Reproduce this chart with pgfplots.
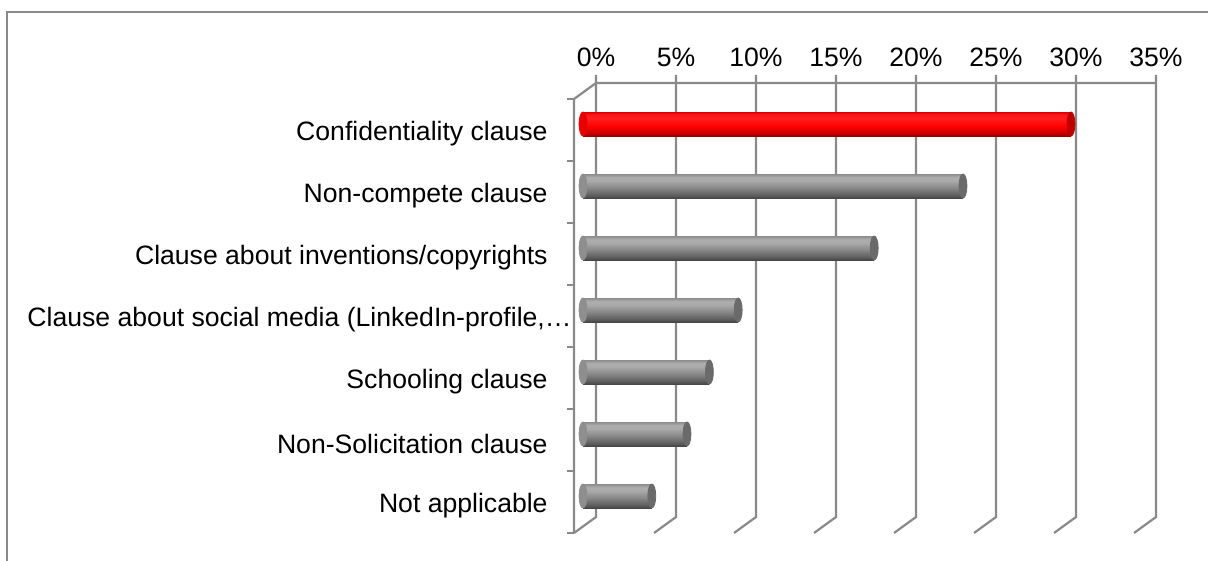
\documentclass[border=0pt]{standalone}
\usepackage{fontspec}
\setmainfont{Liberation Sans}
\usepackage{pgfplots}
\pgfplotsset{compat=1.18}
\pgfdeclarelayer{bgl}
\pgfsetlayers{bgl,main}
\definecolor{gridc}{HTML}{898989}
\definecolor{gcap}{HTML}{6A6A6A}
\definecolor{gleft}{HTML}{8E8E8E}
\definecolor{rcap}{HTML}{C00000}
\definecolor{rleft}{HTML}{E80000}
\pgfdeclareverticalshading{gcyl}{100bp}{
  color(0bp)=(black!72); color(25bp)=(black!72); color(32bp)=(black!62);
  color(45bp)=(black!48); color(60bp)=(black!34); color(68bp)=(black!32);
  color(75bp)=(black!45); color(100bp)=(black!45)}
\pgfdeclareverticalshading{rcyl}{100bp}{
  color(0bp)=(red!60!black); color(25bp)=(red!60!black); color(33bp)=(red!82!black);
  color(45bp)=(red); color(62bp)=(red!88!white); color(70bp)=(red!92!white);
  color(75bp)=(red!85!black); color(100bp)=(red!85!black)}
\begin{document}
\fontsize{13.3}{15.5}\selectfont
\begin{tikzpicture}
\draw[gridc, line width=0.6pt] (3.5pt,-281pt) -- (3.5pt,-6pt) -- (605pt,-6pt);
\begin{axis}[
  scale only axis,
  width=280pt, height=217pt,
  at={(291.5pt,-46.5pt)}, anchor=north west,
  xmin=0, xmax=35, ymin=-0.5, ymax=6.5,
  y dir=reverse,
  clip=false,
  axis line style={draw=none},
  major tick length=0pt,
  xtick={0,5,...,35},
  xticklabel pos=upper,
  xticklabel={\pgfmathprintnumber{\tick}\%},
  xticklabel style={anchor=center, xshift=6.5pt, yshift=18pt},
  ytick={0,...,6},
  yticklabels={Confidentiality clause, Non-compete clause, Clause about inventions/copyrights, {Clause about social media (LinkedIn-profile,…\kern-12pt}, Schooling clause, Non-Solicitation clause, Not applicable},
  yticklabel style={anchor=east, inner sep=0pt, xshift=-17.5pt, yshift=-5pt},
  /pgf/number format/assume math mode=true,
]
\pgfplotsinvokeforeach{0,5,...,35}{
  \coordinate (t#1) at (axis cs:#1,-0.5);
  \coordinate (u#1) at (axis cs:#1,6.5);
}
\pgfplotsinvokeforeach{0,...,7}{
  \coordinate (c#1) at (axis cs:0,#1-0.5);
}
% left rounded ends
\addplot[only marks, mark=*, mark size=6pt, color=rleft, mark options={xscale=0.33}] coordinates {(0,0)};
\addplot[only marks, mark=*, mark size=6pt, color=gleft, mark options={xscale=0.33}] coordinates {(0,1) (0,2) (0,3) (0,4) (0,5) (0,6)};
% bars (one plot each so that each gets its own shading)
\addplot[xbar, bar width=12pt, bar shift=0pt, draw=none, shade, shading=rcyl] coordinates {(30.5,0)};
\addplot[xbar, bar width=12pt, bar shift=0pt, draw=none, shade, shading=gcyl] coordinates {(23.75,1)};
\addplot[xbar, bar width=12pt, bar shift=0pt, draw=none, shade, shading=gcyl] coordinates {(18.2,2)};
\addplot[xbar, bar width=12pt, bar shift=0pt, draw=none, shade, shading=gcyl] coordinates {(9.7,3)};
\addplot[xbar, bar width=12pt, bar shift=0pt, draw=none, shade, shading=gcyl] coordinates {(7.9,4)};
\addplot[xbar, bar width=12pt, bar shift=0pt, draw=none, shade, shading=gcyl] coordinates {(6.5,5)};
\addplot[xbar, bar width=12pt, bar shift=0pt, draw=none, shade, shading=gcyl] coordinates {(4.3,6)};
% right end caps
\addplot[only marks, mark=*, mark size=6pt, color=rcap, mark options={xscale=0.33}] coordinates {(30.5,0)};
\addplot[only marks, mark=*, mark size=6pt, color=gcap, mark options={xscale=0.33}] coordinates {(23.75,1) (18.2,2) (9.7,3) (7.9,4) (6.5,5) (4.3,6)};
\end{axis}
\begin{pgfonlayer}{bgl}
\foreach \v in {0,5,...,35} {
  \draw[gridc, line width=1.1pt] ([shift={(6.5pt,9pt)}]t\v) -- ([shift={(6.5pt,5pt)}]u\v) -- ([shift={(-4.5pt,-3pt)}]u\v);
}
\draw[gridc, line width=1.1pt] ([shift={(6.5pt,5pt)}]t35) -- ([shift={(6.5pt,5pt)}]t0) -- ([shift={(-4.5pt,-3pt)}]t0) -- ([shift={(-4.5pt,-3pt)}]u0);
\foreach \k in {0,...,7} {
  \draw[gridc, line width=1.1pt] ([shift={(-8pt,-3pt)}]c\k) -- ([shift={(-4.5pt,-3pt)}]c\k);
}
\end{pgfonlayer}
\pgfresetboundingbox
\useasboundingbox (0,0) rectangle (604pt,-280.5pt);
\end{tikzpicture}
\end{document}
